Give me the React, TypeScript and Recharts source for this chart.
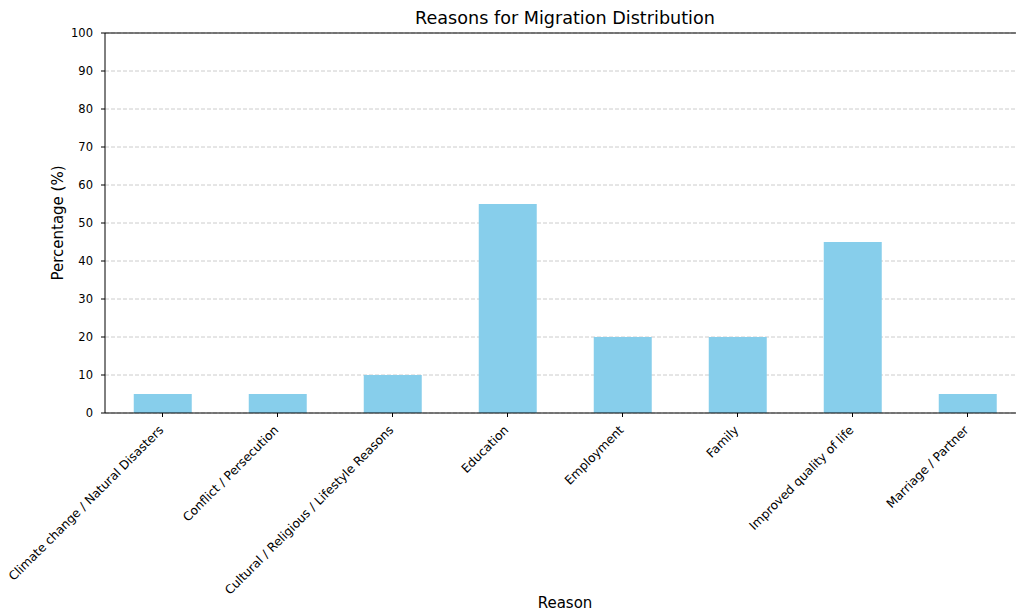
import { Bar, BarChart, CartesianGrid, Label, XAxis, YAxis } from "recharts"

const reasons = [
  "Climate change / Natural Disasters",
  "Conflict / Persecution",
  "Cultural / Religious / Lifestyle Reasons",
  "Education",
  "Employment",
  "Family",
  "Improved quality of life",
  "Marriage / Partner",
]

const percentages = [5, 5, 10, 55, 20, 20, 45, 5]

const yTicks = [0, 10, 20, 30, 40, 50, 60, 70, 80, 90, 100]

const font = "DejaVu Sans, sans-serif"

function ReasonTick(props: any) {
  const { x, y, payload } = props
  return (
    <g transform={`translate(${x - 1},${y + 9})`}>
      <text
        transform="rotate(-45)"
        textAnchor="end"
        dominantBaseline="central"
        fontSize={12.2}
        fontFamily={font}
        fill="#000"
      >
        {payload.value}
      </text>
    </g>
  )
}

export default function App() {
  const data = reasons.map((name, i) => ({ name, value: percentages[i] }))

  return (
    <div
      style={{
        position: "fixed",
        left: 0,
        top: 0,
        width: 1016,
        height: 612,
        overflow: "hidden",
        background: "#fff",
      }}
    >
      <BarChart
        width={1026}
        height={612}
        data={data}
        margin={{ top: 33, right: 1, left: 0, bottom: 0 }}
        barCategoryGap="25%"
      >
        <text
          x={565}
          y={24}
          textAnchor="middle"
          fontSize={17.6}
          fontFamily={font}
          fill="#000"
        >
          Reasons for Migration Distribution
        </text>
        <CartesianGrid
          vertical={false}
          stroke="#cccccc"
          strokeDasharray="4 2"
        />
        <XAxis
          dataKey="name"
          height={199}
          interval={0}
          tick={<ReasonTick />}
          tickSize={4}
          stroke="#000"
          tickLine={{ stroke: "#000" }}
        >
          <Label
            value="Reason"
            position="insideBottom"
            offset={4}
            style={{ fontSize: 15, fontFamily: font, fill: "#000" }}
          />
        </XAxis>
        <YAxis
          width={105}
          domain={[0, 100]}
          ticks={yTicks}
          interval={0}
          tickSize={4}
          tickMargin={8}
          stroke="#000"
          tick={{ fontSize: 11.5, fontFamily: font, fill: "#000" }}
        >
          <Label
            value="Percentage (%)"
            angle={-90}
            position="insideLeft"
            offset={58}
            style={{ fontSize: 15, fontFamily: font, fill: "#000", textAnchor: "middle" }}
          />
        </YAxis>
        <Bar dataKey="value" fill="#87CEEB" isAnimationActive={false} />
        {/* top spine */}
        <line x1={105} y1={33} x2={1025} y2={33} stroke="#000" strokeWidth={1} />
      </BarChart>
    </div>
  )
}
